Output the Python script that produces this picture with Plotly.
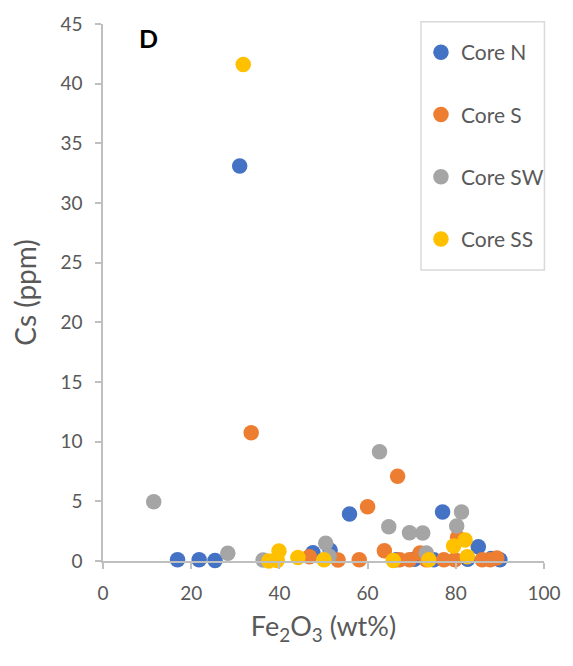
import plotly.graph_objects as go

core_n_x = [31.0, 55.9, 77.0, 16.9, 21.8, 25.4, 47.6, 51.5, 66.5, 70.6, 75.0, 82.7, 85.1, 88.0, 90.0]
core_n_y = [33.1, 3.94, 4.1, 0.1, 0.1, 0.05, 0.7, 0.9, 0.1, 0.15, 0.1, 0.15, 1.2, 0.2, 0.1]

core_s_x = [33.6, 60.0, 66.8, 63.8, 46.8, 53.3, 58.1, 67.3, 69.5, 71.9, 73.3, 77.3, 79.8, 80.4, 86.0, 87.8, 89.3]
core_s_y = [10.75, 4.55, 7.1, 0.86, 0.36, 0.08, 0.1, 0.1, 0.1, 0.67, 0.1, 0.1, 0.1, 2.0, 0.1, 0.1, 0.25]

core_sw_x = [11.5, 28.3, 36.3, 50.5, 51.3, 62.7, 64.8, 69.5, 72.5, 73.3, 80.2, 81.3]
core_sw_y = [4.97, 0.65, 0.08, 1.48, 0.4, 9.16, 2.87, 2.37, 2.35, 0.67, 2.93, 4.1]

core_ss_x = [31.8, 37.6, 39.5, 39.9, 44.2, 50.1, 65.8, 73.9, 79.5, 82.1, 82.6]
core_ss_y = [41.6, 0.0, 0.05, 0.84, 0.3, 0.1, 0.05, 0.1, 1.26, 1.76, 0.36]

series = [
    ("Core N", core_n_x, core_n_y, "#4472C4"),
    ("Core S", core_s_x, core_s_y, "#ED7D31"),
    ("Core SW", core_sw_x, core_sw_y, "#A5A5A5"),
    ("Core SS", core_ss_x, core_ss_y, "#FFC000"),
]

FONT = "Lato"
TXT = "#595959"
AX = "#bfbfbf"

fig = go.Figure()
for name, xs, ys, col in series:
    fig.add_trace(go.Scatter(
        x=xs, y=ys, mode="markers", name=name, legendgroup=name,
        marker=dict(color=col, size=15.5, line=dict(width=0)),
        cliponaxis=False,
    ))

fig.update_layout(
    width=573, height=666,
    margin=dict(l=103, r=24, t=24, b=105),
    paper_bgcolor="white", plot_bgcolor="white",
    font=dict(family=FONT, color=TXT, size=19),
    showlegend=True,
    legend=dict(
        x=0.721, y=0.985, xanchor="left", yanchor="top",
        borderwidth=0, bgcolor="rgba(0,0,0,0)",
        font=dict(family=FONT, size=21, color=TXT),
        tracegroupgap=32, itemsizing="trace",
    ),
    xaxis=dict(
        range=[0, 100], tickvals=[0, 20, 40, 60, 80, 100],
        showgrid=False, zeroline=False, showline=True, linecolor=AX, linewidth=1.5,
        ticks="outside", ticklen=6, tickcolor=AX, tickwidth=1.5,
        ticklabelstandoff=8,
        tickfont=dict(size=19, color=TXT, family=FONT),
        title=dict(text="Fe<sub>2</sub>O<sub>3</sub> (wt%)", font=dict(size=27, color=TXT, family=FONT), standoff=15),
    ),
    yaxis=dict(
        range=[0, 45], tickvals=list(range(0, 46, 5)),
        showgrid=False, zeroline=False, showline=True, linecolor=AX, linewidth=1.5,
        ticks="outside", ticklen=6, tickcolor=AX, tickwidth=1.5,
        ticklabelstandoff=9,
        tickfont=dict(size=19, color=TXT, family=FONT),
        title=dict(text="Cs (ppm)", font=dict(size=28, color=TXT, family=FONT), standoff=16),
    ),
    shapes=[dict(
        type="rect", xref="paper", yref="paper",
        x0=0.721, x1=1.001, y0=0.542, y1=1.004,
        line=dict(color="#d9d9d9", width=1.5), fillcolor="rgba(0,0,0,0)", layer="below",
    )],
    annotations=[dict(
        text="<b>D</b>", x=0.103, y=0.973, xref="paper", yref="paper",
        xanchor="center", yanchor="middle",
        showarrow=False, font=dict(size=25, color="black", family=FONT),
    )],
)

fig.write_html("out.html")
